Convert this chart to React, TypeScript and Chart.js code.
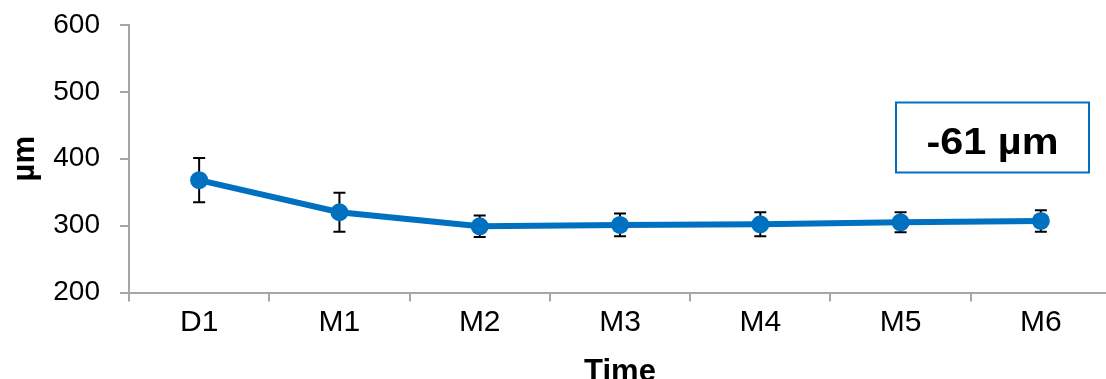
import React, { useEffect, useRef } from "react";
import { Chart, registerables } from "chart.js";

Chart.register(...registerables);

const categories = ["D1", "M1", "M2", "M3", "M4", "M5", "M6"];
const thickness = [368, 320, 299, 301, 302, 305, 307];
const errorSD = [33, 29, 16, 17, 18, 15, 16];
const yTicks = [200, 300, 400, 500, 600];
const changeLabel = "-61 µm";
const xTitle = "Time";
const yTitle = "µm";

const BLUE = "#0070C0";
const AXIS = "#A6A6A6";
const FONT = "'Liberation Sans', Arial, Helvetica, sans-serif";

const errorBarPlugin = {
  id: "errorBars",
  beforeDatasetsDraw(chart: any) {
    const { ctx, scales } = chart;
    const x = scales.x;
    const y = scales.y;
    ctx.save();
    ctx.strokeStyle = "#000000";
    ctx.lineWidth = 2;
    thickness.forEach((v, i) => {
      const px = x.getPixelForValue(i);
      const top = y.getPixelForValue(v + errorSD[i]);
      const bot = y.getPixelForValue(v - errorSD[i]);
      ctx.beginPath();
      ctx.moveTo(px, top);
      ctx.lineTo(px, bot);
      ctx.moveTo(px - 6, top);
      ctx.lineTo(px + 6, top);
      ctx.moveTo(px - 6, bot);
      ctx.lineTo(px + 6, bot);
      ctx.stroke();
    });
    ctx.restore();
  },
};

const boxPlugin = {
  id: "changeBox",
  afterDraw(chart: any) {
    const { ctx, chartArea } = chart;
    const w = 193;
    const h = 70;
    const left = chartArea.right - 22 - w;
    const top = chartArea.top + 77.5;
    ctx.save();
    ctx.fillStyle = "#ffffff";
    ctx.fillRect(left, top, w, h);
    ctx.strokeStyle = BLUE;
    ctx.lineWidth = 2;
    ctx.strokeRect(left, top, w, h);
    ctx.fillStyle = "#000000";
    ctx.font = `bold 36px ${FONT}`;
    ctx.textAlign = "center";
    ctx.textBaseline = "alphabetic";
    ctx.translate(left + w / 2, top + 51);
    ctx.scale(1.15, 1);
    ctx.fillText(changeLabel, 0, 0);
    ctx.restore();
  },
};

export default function App() {
  const ref = useRef<HTMLCanvasElement | null>(null);

  useEffect(() => {
    document.body.style.margin = "0";
    const canvas = ref.current;
    if (!canvas) return;
    const chart = new Chart(canvas, {
      type: "line",
      data: {
        labels: categories,
        datasets: [
          {
            data: thickness,
            borderColor: BLUE,
            backgroundColor: BLUE,
            borderWidth: 6,
            pointRadius: 9,
            pointBorderWidth: 0,
            pointBackgroundColor: BLUE,
            tension: 0,
          },
        ],
      },
      options: {
        animation: false,
        responsive: false,
        devicePixelRatio: 1,
        layout: { autoPadding: false, padding: { top: 25, left: 0, right: 0, bottom: 0 } },
        plugins: {
          legend: { display: false },
          tooltip: { enabled: false },
        },
        scales: {
          x: {
            type: "category",
            offset: true,
            grid: {
              offset: true,
              drawOnChartArea: false,
              drawTicks: true,
              tickLength: 9,
              color: AXIS,
              lineWidth: 2,
            },
            border: { display: true, color: AXIS, width: 2 },
            ticks: {
              color: "#000000",
              font: { family: FONT, size: 30 },
              padding: 3,
              maxRotation: 0,
              autoSkip: false,
            },
            title: {
              display: true,
              text: xTitle,
              color: "#000000",
              font: { family: FONT, size: 31, weight: "bold", lineHeight: 1 },
              padding: { top: 0, bottom: -9 },
            },
            afterFit(scale: any) {
              scale.height = 86.5;
              scale.paddingLeft = 0;
              scale.paddingRight = 0;
            },
          },
          y: {
            min: yTicks[0],
            max: yTicks[yTicks.length - 1],
            afterBuildTicks(scale: any) {
              scale.ticks = yTicks.map((v) => ({ value: v }));
            },
            grid: {
              drawOnChartArea: false,
              drawTicks: true,
              tickLength: 9,
              color: AXIS,
              lineWidth: 2,
            },
            border: { display: true, color: AXIS, width: 2 },
            ticks: {
              color: "#000000",
              font: { family: FONT, size: 28 },
              padding: 20,
            },
            title: {
              display: true,
              text: yTitle,
              color: "#000000",
              font: { family: FONT, size: 31, weight: "bold", lineHeight: 1 },
              padding: { top: 9.5, bottom: 0 },
            },
            afterFit(scale: any) {
              scale.width = 129;
              scale.paddingTop = 0;
              scale.paddingBottom = 0;
            },
          },
        },
      },
      plugins: [errorBarPlugin, boxPlugin],
    } as any);
    return () => chart.destroy();
  }, []);

  return (
    <div
      style={{
        position: "absolute",
        left: 0,
        top: 0,
        width: 1106,
        height: 379,
        overflow: "hidden",
        background: "#ffffff",
      }}
    >
      <canvas ref={ref} width={1111} height={379} style={{ width: 1111, height: 379, display: "block" }} />
    </div>
  );
}
